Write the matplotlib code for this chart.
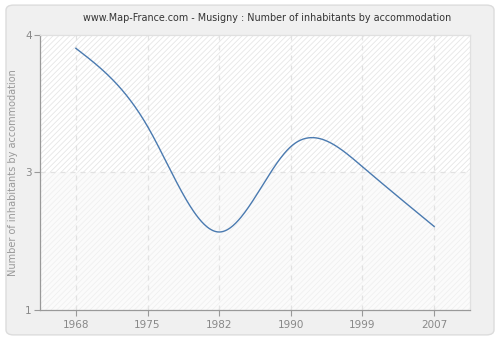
import numpy as np
import matplotlib
matplotlib.use("Agg")
import matplotlib.pyplot as plt
from matplotlib.patches import FancyBboxPatch, Rectangle

years = ["1968", "1975", "1982", "1990", "1999", "2007"]
inhabitants = [3.85, 3.0, 1.85, 2.78, 2.56, 1.91]
y_ticks = [1, 2.5, 4]
y_tick_labels = ["1", "3", "4"]
title = "www.Map-France.com - Musigny : Number of inhabitants by accommodation"
y_label = "Number of inhabitants by accommodation"


def natural_spline(x, y, n=400):
    x = np.asarray(x, float)
    y = np.asarray(y, float)
    k = len(x)
    h = np.diff(x)
    A = np.zeros((k, k))
    r = np.zeros(k)
    A[0, 0] = A[-1, -1] = 1.0
    for i in range(1, k - 1):
        A[i, i - 1] = h[i - 1]
        A[i, i] = 2 * (h[i - 1] + h[i])
        A[i, i + 1] = h[i]
        r[i] = 6 * ((y[i + 1] - y[i]) / h[i] - (y[i] - y[i - 1]) / h[i - 1])
    m = np.linalg.solve(A, r)
    xs = np.linspace(x[0], x[-1], n)
    idx = np.clip(np.searchsorted(x, xs) - 1, 0, k - 2)
    x0, x1 = x[idx], x[idx + 1]
    hh = x1 - x0
    a = (x1 - xs) / hh
    b = (xs - x0) / hh
    ys = (a * y[idx] + b * y[idx + 1]
          + ((a ** 3 - a) * m[idx] + (b ** 3 - b) * m[idx + 1]) * hh ** 2 / 6)
    return xs, ys


plt.rcParams["hatch.linewidth"] = 0.6

fig = plt.figure(figsize=(5, 3.4), dpi=100)
fig.patch.set_facecolor("white")
fig.patches.append(FancyBboxPatch((0.012, 0.015), 0.976, 0.97,
                                  boxstyle="round,pad=0,rounding_size=0.015",
                                  transform=fig.transFigure, facecolor="#f0f0f0",
                                  edgecolor="#dcdcdc", linewidth=1.0, zorder=-10))

ax = fig.add_axes([0.08, 0.088, 0.86, 0.8105])
ax.set_facecolor("white")

pos = np.arange(len(years))
ax.set_xlim(-0.5, len(years) - 0.5)
ax.set_ylim(1, 4)

# hatched background, stronger in the upper band
ax.add_patch(Rectangle((-0.5, 2.5), len(years), 1.5, facecolor="white",
                       edgecolor="#e6e6e6", hatch="//////", linewidth=0, zorder=0))
ax.add_patch(Rectangle((-0.5, 1), len(years), 1.5, facecolor="#fbfbfb",
                       edgecolor="#f0f0f0", hatch="//////", linewidth=0, zorder=0))

for p in pos:
    ax.axvline(p, color="#e2e2e2", linestyle=(0, (4, 4)), linewidth=0.9, zorder=1)
ax.axhline(2.5, color="#e2e2e2", linestyle=(0, (4, 4)), linewidth=0.9, zorder=1)

xs, ys = natural_spline(pos, inhabitants)
ax.plot(xs, ys, color="#4a7ab0", linewidth=1.0, zorder=3)

ax.set_xticks(pos)
ax.set_xticklabels(years)
ax.set_yticks(y_ticks)
ax.set_yticklabels(y_tick_labels)
ax.tick_params(colors="#999999", labelcolor="#888888", labelsize=7.5, length=4, width=0.8)
ax.tick_params(axis="x", pad=3)
ax.tick_params(axis="y", pad=2)

for side in ("left", "bottom"):
    ax.spines[side].set_color("#999999")
    ax.spines[side].set_linewidth(0.9)
for side in ("top", "right"):
    ax.spines[side].set_color("#e0e0e0")
    ax.spines[side].set_linewidth(0.9)

ax.set_ylabel(y_label, color="#999999", fontsize=7.0, labelpad=5)
fig.text(0.534, 0.948, title, ha="center", va="center", color="#333333", fontsize=6.9)

fig.savefig("out.png", dpi=100, facecolor=fig.get_facecolor())
